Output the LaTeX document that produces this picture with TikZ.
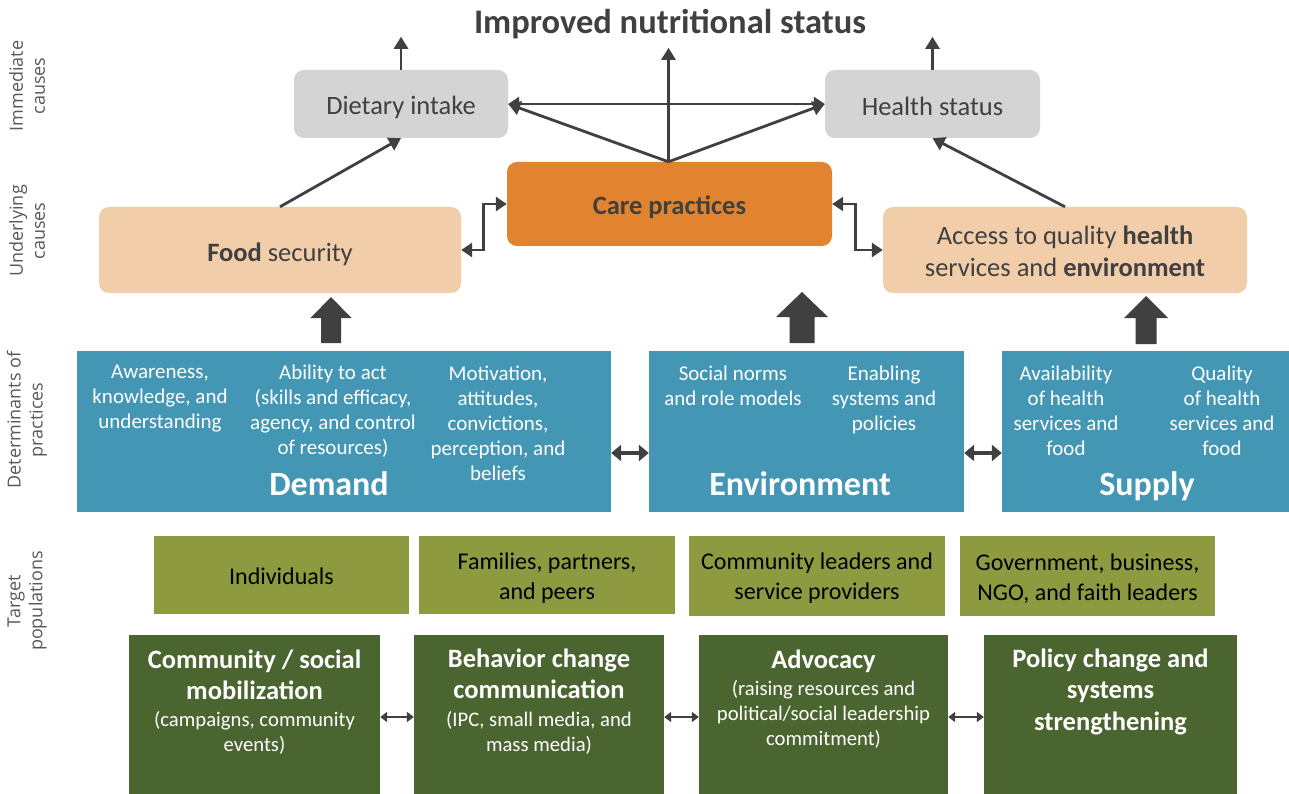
\documentclass[tikz,border=0pt]{standalone}
\usepackage{fontspec}
\setmainfont{Carlito}
\newfontfamily\sidefont{Open Sans}
\usetikzlibrary{arrows.meta,calc}
\definecolor{dgray}{HTML}{404040}
\definecolor{sidegray}{HTML}{595959}
\definecolor{boxgray}{HTML}{D4D4D4}
\definecolor{careorange}{HTML}{E2832F}
\definecolor{peach}{HTML}{F2CDAA}
\definecolor{detblue}{HTML}{4396B4}
\definecolor{olive}{HTML}{8E9A40}
\definecolor{dgreen}{HTML}{4A6530}
\tikzset{
  causebox/.style={rounded corners=10pt, inner sep=0pt},
  ctext/.style={align=center, text=dgray, inner sep=0pt,
    font=\fontsize{26.5pt}{32pt}\selectfont},
  detbox/.style={fill=detblue, inner sep=0pt},
  dettext/.style={text=white, align=center, inner sep=0pt, anchor=north,
    font=\fontsize{21pt}{25pt}\selectfont},
  dethead/.style={text=white, inner sep=0pt, font=\bfseries\fontsize{34pt}{40pt}\selectfont},
  popbox/.style={fill=olive, inner sep=0pt, minimum width=255pt},
  poptext/.style={align=center, text=black, inner sep=0pt,
    font=\fontsize{24pt}{30pt}\selectfont},
  actbox/.style={fill=dgreen, inner sep=0pt, minimum width=250pt, minimum height=159pt},
  acthead/.style={text=white, align=center, inner sep=0pt, anchor=north,
    font=\bfseries\fontsize{26.5pt}{31.5pt}\selectfont},
  actsub/.style={text=white, align=center, inner sep=0pt, anchor=north,
    font=\fontsize{20.7pt}{25pt}\selectfont},
  sidelab/.style={rotate=90, align=center, text=sidegray, inner sep=0pt,
    font=\sidefont\fontsize{18pt}{22pt}\selectfont},
  thinarrow/.style={draw=dgray, line width=2.8pt, -{Triangle[length=12pt,width=14pt]}},
  dblarrow/.style={draw=dgray, line width=2.8pt, {Triangle[length=11pt,width=14pt]}-{Triangle[length=11pt,width=14pt]}},
  midarrow/.style={draw=dgray, line width=4pt, {Triangle[length=10pt,width=16pt]}-{Triangle[length=10pt,width=16pt]}},
  smallarrow/.style={draw=dgray, line width=2pt, {Triangle[length=7pt,width=10pt]}-{Triangle[length=7pt,width=10pt]}}
}
\begin{document}
\begin{tikzpicture}[x=1pt,y=-1pt]
\useasboundingbox[fill=white] (0,0) rectangle (1289,794);

% side labels
\node[sidelab] (labA) at (27,86) {Immediate\\causes};
\node[sidelab] (labB) at (27,231) {Underlying\\causes};
\node[sidelab] (labC) at (27,420) {Determinants of\\practices};
\node[sidelab] (labD) at (27,601) {Target\\populations};

% title
\node[text=dgray, inner sep=0pt, font=\bfseries\fontsize{34.5pt}{40pt}\selectfont] (title) at (670,24) {Improved nutritional status};

% immediate causes
\node[causebox, fill=boxgray, minimum width=214pt, minimum height=68pt] (diet) at (401,104) {};
\node[ctext] (dietT) at ($(diet)+(0,3)$) {Dietary intake};
\node[causebox, fill=boxgray, minimum width=215pt, minimum height=68pt] (health) at (932.5,104) {};
\node[ctext] (healthT) at ($(health)+(0,2)$) {Health status};

% underlying causes
\node[causebox, fill=careorange, minimum width=325pt, minimum height=84pt] (care) at (669.5,204) {};
\node[ctext, font=\bfseries\fontsize{26.5pt}{32pt}\selectfont] (careT) at ($(care)+(0,3)$) {Care practices};
\node[causebox, fill=peach, minimum width=362pt, minimum height=86pt] (food) at (280,250) {};
\node[ctext] (foodT) at ($(food)+(0,4)$) {\textbf{Food} security};
\node[causebox, fill=peach, minimum width=364pt, minimum height=86pt] (access) at (1065,250) {};
\node[ctext] (accessT) at ($(access)+(0,1.5)$) {Access to quality \textbf{health}\\services and \textbf{environment}};

% arrows among causes
\coordinate (dietup) at ($(diet.north)+(0,-33)$);
\coordinate (healthup) at ($(health.north)+(0,-33)$);
\coordinate (careup) at ($(care.north)+(-1,-114)$);
\draw[thinarrow] (diet.north) -- (dietup);
\draw[thinarrow] (health.north) -- (healthup);
\draw[thinarrow] ($(care.north)+(-1,0)$) -- (careup);
\draw[thinarrow] ($(care.north)+(-1,0)$) -- (diet.east);
\draw[thinarrow] ($(care.north)+(-1,0)$) -- (health.west);
\draw[dblarrow] (diet.east) -- (health.west);
\draw[thinarrow] (food.north) -- (diet.south);
\draw[thinarrow] (access.north) -- (health.south);
\draw[dblarrow] (food.east) -- ++(22,0) |- (care.west);
\draw[dblarrow] (care.east) -- ++(23,0) |- (access.west);

% block arrows
\fill[dgray] (321,343) -- (321,318) -- (310.5,318) -- (331,297) -- (351.5,318) -- (341,318) -- (341,343) -- cycle;
\fill[dgray] (789.5,343) -- (789.5,317) -- (776,317) -- (802,292) -- (828,317) -- (814.5,317) -- (814.5,343) -- cycle;
\fill[dgray] (1135.5,344) -- (1135.5,318) -- (1124,318) -- (1146,296) -- (1168,318) -- (1156.5,318) -- (1156.5,344) -- cycle;

% determinants
\node[detbox, minimum width=534pt, minimum height=161pt] (demand) at (344,431.5) {};
\node[detbox, minimum width=315pt, minimum height=161pt] (env) at (806.5,431.5) {};
\node[detbox, minimum width=287pt, minimum height=161pt] (supply) at (1145.5,431.5) {};

\node[dettext] (d1) at (160,364.5) {Awareness,\\knowledge, and\\understanding};
\node[dettext] (d2) at (333,364.5) {Ability to act\\(skills and efficacy,\\agency, and control\\of resources)};
\node[dettext] (d3) at (498,365.5) {Motivation,\\attitudes,\\convictions,\\perception, and\\beliefs};
\node[dethead] (dh) at (329,484) {Demand};
\node[dettext] (e1) at (733,365.5) {Social norms\\and role models};
\node[dettext] (e2) at (884,365.5) {Enabling\\systems and\\policies};
\node[dethead] (eh) at (800,484) {Environment};
\node[dettext] (s1) at (1066,365.5) {Availability\\of health\\services and\\food};
\node[dettext] (s2) at (1222,365.5) {Quality\\of health\\services and\\food};
\node[dethead] (sh) at (1147,486) {Supply};

\draw[midarrow] ($(demand.east)+(0,21.5)$) -- ($(env.west)+(0,21.5)$);
\draw[midarrow] ($(env.east)+(0,21.5)$) -- ($(supply.west)+(0,21.5)$);

% target populations
\node[popbox, minimum height=78pt] (pop1) at (281.5,575) {};
\node[poptext] (pop1T) at ($(pop1)+(0,1)$) {Individuals};
\node[popbox, minimum width=256pt, minimum height=78pt] (pop2) at (547,575) {};
\node[poptext] (pop2T) at ($(pop2)+(0,3)$) {Families, partners,\\and peers};
\node[popbox, minimum width=256pt, minimum height=80pt] (pop3) at (817,576) {};
\node[poptext] (pop3T) at ($(pop3)+(0,2.5)$) {Community leaders and\\service providers};
\node[popbox, minimum height=80pt] (pop4) at (1087.5,576) {};
\node[poptext] (pop4T) at ($(pop4)+(0,2.5)$) {Government, business,\\NGO, and faith leaders};

% approaches
\node[actbox, minimum width=251pt] (act1) at (254.5,714) {};
\node[actbox] (act2) at (539,714) {};
\node[actbox, minimum width=249pt] (act3) at (823.5,714) {};
\node[actbox, minimum width=253pt] (act4) at (1110.5,714) {};

\node[acthead] (a1h) at (254.5,649.5) {Community / social\\mobilization};
\node[actsub] (a1s) at (254.5,711.5) {(campaigns, community\\events)};
\node[acthead] (a2h) at (539,648.5) {Behavior change\\communication};
\node[actsub] (a2s) at (539,711) {(IPC, small media, and\\mass media)};
\node[acthead] (a3h) at (823.5,649.5) {Advocacy};
\node[actsub] (a3s) at (823.5,680.5) {(raising resources and\\political/social leadership\\commitment)};
\node[acthead] (a4h) at (1110.5,648.5) {Policy change and\\systems\\strengthening};

\draw[smallarrow] ($(act1.east)+(0,3)$) -- ($(act2.west)+(0,3)$);
\draw[smallarrow] ($(act2.east)+(0,3)$) -- ($(act3.west)+(0,3)$);
\draw[smallarrow] ($(act3.east)+(0,3)$) -- ($(act4.west)+(0,3)$);
\end{tikzpicture}
\end{document}
